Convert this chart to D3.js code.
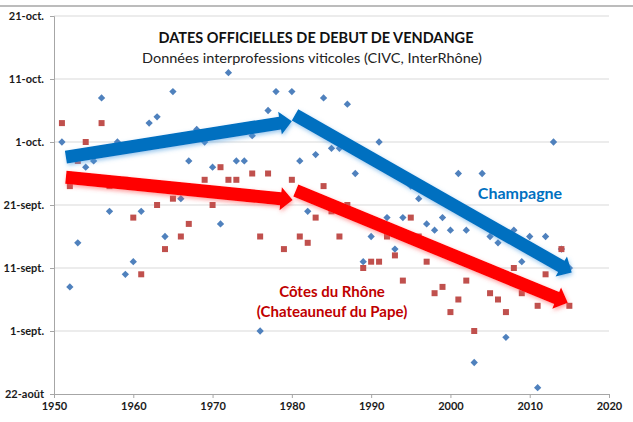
<!DOCTYPE html>
<html>
<head>
<meta charset="utf-8">
<script src="https://cdn.jsdelivr.net/npm/d3@7"></script>
<style>
  body { margin: 0; background: #fff; }
  text { font-family: Lato, "Open Sans", sans-serif; }
</style>
</head>
<body>
<div id="chart"></div>
<script>
// years of harvest, values = days after 22 August
const years = d3.range(1951, 2016);

const champagne = [
  40, 17, 24, 36, 37, 47, 29, 40, 19, 21,
  29, 43, 44, 25, 48, 31, 37, 42, 40, 36,
  27, 51, 37, 37, 41, 10, 45, 48, 43, 48,
  37, 29, 38, 47, 39, 39, 46, 35, 21, 25,
  40, 28, 23, 28, 33, 31, 27, 26, 28, 26,
  35, 26, 5, 35, 25, 24, 9, 26, 21, 25,
  1, 25, 40, 23, 20,
];

const rhone = [
  43, 33, 37, 40, 34, 43, 33, 34, 34, 28,
  19, 33, 30, 23, 31, 25, 27, 32, 34, 30,
  36, 34, 34, 32, 35, 25, 35, 31, 23, 34,
  25, 24, 28, 33, 29, 25, 30, 28, 20, 21,
  21, 25, 22, 18, 28, 25, 21, 16, 17, 13,
  15, 18, 10, 20, 16, 15, 13, 20, 16, 17,
  14, 19, 21, 23, 14,
];

const yTickDays = [0, 10, 20, 30, 40, 50, 60];
const yTickLabels = ["22-août", "1-sept.", "11-sept.", "21-sept.", "1-oct.", "11-oct.", "21-oct."];
const xTicks = [1950, 1960, 1970, 1980, 1990, 2000, 2010, 2020];

// trend arrows: [year, day] start and end
const blueArrows = [
  [[1951.5, 37.6], [1980.0, 43.3]],
  [[1980.4, 44.3], [2015.3, 19.3]],
];
const redArrows = [
  [[1951.5, 34.4], [1980.1, 30.8]],
  [[1980.5, 32.3], [2014.8, 14.5]],
];

const width = 633;
const height = 422;

const svg = d3.select("#chart")
  .append("svg")
  .attr("width", width)
  .attr("height", height);

const x = d3.scaleLinear().domain([1950, 2020]).range([54, 609]);
const y = d3.scaleLinear().domain([0, 60]).range([394, 16]);

// top frame line
svg.append("line")
  .attr("x1", 0).attr("x2", width)
  .attr("y1", 6).attr("y2", 6)
  .attr("stroke", "#a6a6a6")
  .attr("stroke-width", 1.5);

// gridlines
svg.append("g")
  .selectAll("line")
  .data(yTickDays.slice(1))
  .join("line")
  .attr("x1", x(1950))
  .attr("x2", x(2020))
  .attr("y1", (d) => y(d))
  .attr("y2", (d) => y(d))
  .attr("stroke", "#d9d9d9")
  .attr("stroke-width", 1);

// axes
const yAxis = svg.append("g")
  .attr("transform", `translate(${x(1950)},0)`)
  .call(d3.axisLeft(y)
    .tickValues(yTickDays)
    .tickFormat((d, i) => yTickLabels[i])
    .tickSize(4)
    .tickPadding(6));

const xAxis = svg.append("g")
  .attr("transform", `translate(0,${y(0)})`)
  .call(d3.axisBottom(x)
    .tickValues(xTicks)
    .tickFormat(d3.format("d"))
    .tickSize(4)
    .tickPadding(4));

[yAxis, xAxis].forEach((g) => {
  g.select(".domain").attr("stroke", "#a6a6a6");
  g.selectAll(".tick line").attr("stroke", "#a6a6a6");
  g.selectAll(".tick text")
    .attr("fill", "#1a1a1a")
    .style("font-size", "11px")
    .style("font-weight", "bold");
});

// titles
svg.append("text")
  .attr("x", 316)
  .attr("y", 43)
  .attr("text-anchor", "middle")
  .style("font-size", "15.5px")
  .style("font-weight", "bold")
  .attr("fill", "#111")
  .attr("textLength", 315)
  .attr("lengthAdjust", "spacingAndGlyphs")
  .text("DATES OFFICIELLES DE DEBUT DE VENDANGE");

svg.append("text")
  .attr("x", 312)
  .attr("y", 63)
  .attr("text-anchor", "middle")
  .style("font-size", "14px")
  .attr("fill", "#222")
  .attr("textLength", 340)
  .attr("lengthAdjust", "spacingAndGlyphs")
  .text("Données interprofessions viticoles (CIVC, InterRhône)");

// points
const pts = svg.append("g");

pts.selectAll("path.champ")
  .data(years)
  .join("path")
  .attr("class", "champ")
  .attr("d", d3.symbol(d3.symbolDiamond2, 34))
  .attr("transform", (d, i) => `translate(${x(d)},${y(champagne[i])})`)
  .attr("fill", "#4f81bd");

pts.selectAll("rect.rhone")
  .data(years)
  .join("rect")
  .attr("class", "rhone")
  .attr("x", (d) => x(d) - 3)
  .attr("y", (d, i) => y(rhone[i]) - 3)
  .attr("width", 6)
  .attr("height", 6)
  .attr("fill", "#c0504d");

// arrows
const defs = svg.append("defs");
function glow(id, color) {
  const f = defs.append("filter")
    .attr("id", id)
    .attr("x", "-20%").attr("y", "-50%")
    .attr("width", "140%").attr("height", "200%");
  f.append("feDropShadow")
    .attr("dx", 1).attr("dy", 2)
    .attr("stdDeviation", 2)
    .attr("flood-color", color)
    .attr("flood-opacity", 0.55);
}
glow("glowBlue", "#4a9be0");
glow("glowRed", "#ff5050");

function arrowPath(a) {
  const p0 = [x(a[0][0]), y(a[0][1])];
  const p1 = [x(a[1][0]), y(a[1][1])];
  const dx = p1[0] - p0[0];
  const dy = p1[1] - p0[1];
  const len = Math.hypot(dx, dy);
  const ux = dx / len, uy = dy / len;
  const nx = -uy, ny = ux;
  const w = 6.5, hw = 11.5, hl = 12;
  const bx = p1[0] - ux * hl, by = p1[1] - uy * hl;
  const pts = [
    [p0[0] + nx * w, p0[1] + ny * w],
    [bx + nx * w, by + ny * w],
    [bx + nx * hw, by + ny * hw],
    p1,
    [bx - nx * hw, by - ny * hw],
    [bx - nx * w, by - ny * w],
    [p0[0] - nx * w, p0[1] - ny * w],
  ];
  return "M" + pts.map((p) => p.join(",")).join("L") + "Z";
}

svg.append("g")
  .selectAll("path")
  .data(blueArrows)
  .join("path")
  .attr("d", arrowPath)
  .attr("fill", "#0070c0")
  .attr("filter", "url(#glowBlue)");

svg.append("g")
  .selectAll("path")
  .data(redArrows)
  .join("path")
  .attr("d", arrowPath)
  .attr("fill", "#ff0000")
  .attr("filter", "url(#glowRed)");

// labels
svg.append("text")
  .attr("x", 520)
  .attr("y", 199)
  .attr("text-anchor", "middle")
  .style("font-size", "16px")
  .style("font-weight", "bold")
  .attr("fill", "#0070c0")
  .text("Champagne");

svg.append("text")
  .attr("x", 332)
  .attr("y", 297)
  .attr("text-anchor", "middle")
  .style("font-size", "15px")
  .style("font-weight", "bold")
  .attr("fill", "#c00000")
  .text("Côtes du Rhône");

svg.append("text")
  .attr("x", 332)
  .attr("y", 317)
  .attr("text-anchor", "middle")
  .style("font-size", "15px")
  .style("font-weight", "bold")
  .attr("fill", "#c00000")
  .text("(Chateauneuf du Pape)");
</script>
</body>
</html>
